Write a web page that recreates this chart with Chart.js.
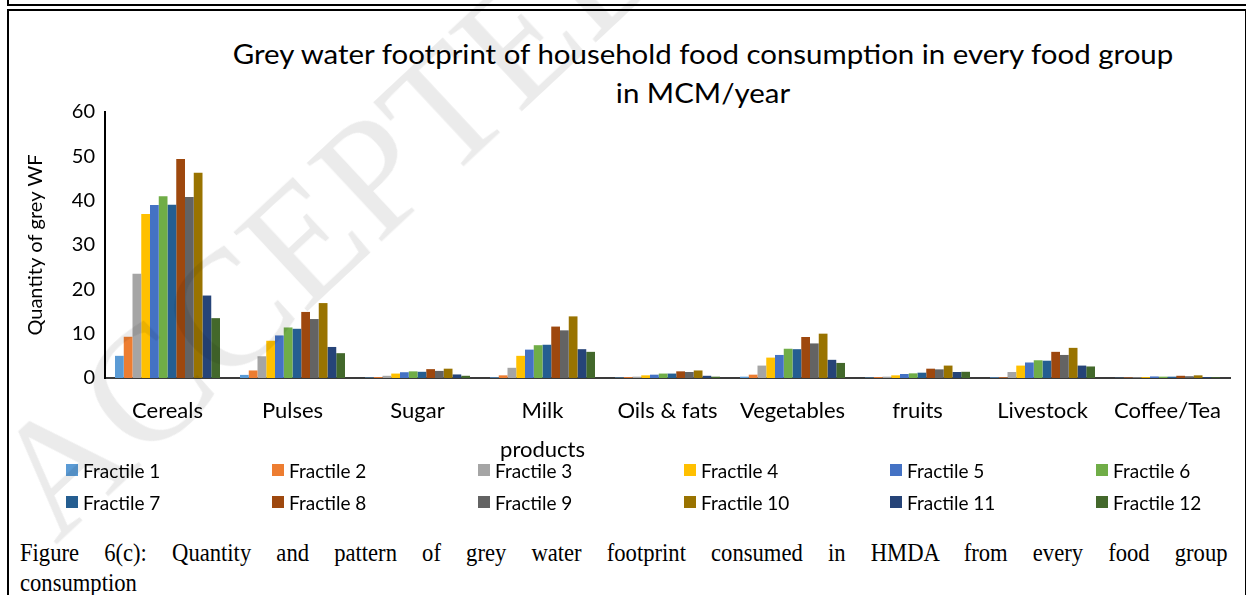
<!DOCTYPE html>
<html>
<head>
<meta charset="utf-8">
<script src="https://cdn.jsdelivr.net/npm/chart.js@4"></script>
<style>
  html, body { margin: 0; padding: 0; background: #fff; }
  body { width: 1246px; height: 595px; position: relative; overflow: hidden; font-family: Lato, sans-serif; color: #000; }
  #topBox { position: absolute; left: 7px; top: -4px; width: 1260px; height: 8px; border-left: 2px solid #000; border-bottom: 2px solid #000; }
  #frame { position: absolute; left: 7px; top: 9px; width: 1236px; height: 620px; border-left: 2px solid #000; border-top: 2px solid #000; border-right: 1px solid #000; }
  #title { position: absolute; left: 0; top: 34px; width: 1406px; text-align: center; font-size: 27px; line-height: 39px; transform: scaleX(1.09); transform-origin: 703px 0; }
  #chartBox { position: absolute; left: 10px; top: 12px; width: 1232px; height: 466px; }
  #legend { position: absolute; left: 66px; top: 454px; width: 1240px; display: flex; flex-wrap: wrap; }
  .item { width: 206px; height: 32px; display: flex; align-items: center; font-size: 19px; }
  .swatch { width: 12px; height: 12px; margin-right: 5px; }
  #caption { position: absolute; left: 20px; top: 538px; width: 1388px; transform: scaleX(0.87); transform-origin: 0 0; font-family: 'Liberation Serif', serif; font-size: 26px; line-height: 30px; }
  #caption .l1 { text-align: justify; text-align-last: justify; }
  #wm { position: absolute; left: 330px; top: 215px; transform: translate(-50%, -50%) rotate(-43deg); font-family: 'Liberation Serif', serif; font-size: 165px; color: rgba(0, 0, 0, 0.08); white-space: nowrap; pointer-events: none; }
</style>
</head>
<body>
<div id="topBox"></div>
<div id="frame"></div>
<div id="title">Grey water footprint of household food consumption in every food group<br>in MCM/year</div>
<div id="chartBox"><canvas id="chart" width="1232" height="466"></canvas></div>
<div id="legend"></div>
<div id="caption">
  <div class="l1">Figure 6(c): Quantity and pattern of grey water footprint consumed in HMDA from every food group</div>
  <div>consumption</div>
</div>
<div id="wm">ACCEPTED</div>
<script>
// Food groups on the x axis
const categories = ['Cereals', 'Pulses', 'Sugar', ['Milk', 'products'], 'Oils & fats', 'Vegetables', 'fruits', 'Livestock', 'Coffee/Tea']

// Grey WF per fractile, MCM/year
const fractile1 = [5.0, 0.7, 0.1, 0.15, 0.1, 0.3, 0.1, 0.15, 0.05]
const fractile2 = [9.3, 1.7, 0.2, 0.6, 0.2, 0.75, 0.2, 0.15, 0.1]
const fractile3 = [23.5, 4.9, 0.5, 2.3, 0.3, 2.8, 0.3, 1.35, 0.15]
const fractile4 = [37.0, 8.4, 1.0, 5.0, 0.6, 4.6, 0.6, 2.8, 0.2]
const fractile5 = [39.0, 9.6, 1.3, 6.4, 0.75, 5.2, 0.9, 3.5, 0.35]
const fractile6 = [41.0, 11.4, 1.5, 7.4, 1.0, 6.6, 1.05, 4.0, 0.3]
const fractile7 = [39.1, 11.1, 1.4, 7.5, 1.0, 6.5, 1.2, 3.9, 0.3]
const fractile8 = [49.4, 14.9, 2.0, 11.6, 1.5, 9.25, 2.1, 5.9, 0.5]
const fractile9 = [40.8, 13.3, 1.6, 10.75, 1.35, 7.8, 1.95, 5.2, 0.4]
const fractile10 = [46.3, 16.9, 2.1, 13.9, 1.7, 10.0, 2.8, 6.8, 0.6]
const fractile11 = [18.6, 7.0, 0.8, 6.5, 0.5, 4.1, 1.35, 2.8, 0.2]
const fractile12 = [13.5, 5.6, 0.5, 5.9, 0.3, 3.4, 1.4, 2.6, 0.15]

const seriesNames = ['Fractile 1', 'Fractile 2', 'Fractile 3', 'Fractile 4', 'Fractile 5', 'Fractile 6',
  'Fractile 7', 'Fractile 8', 'Fractile 9', 'Fractile 10', 'Fractile 11', 'Fractile 12']
const seriesValues = [fractile1, fractile2, fractile3, fractile4, fractile5, fractile6,
  fractile7, fractile8, fractile9, fractile10, fractile11, fractile12]
const seriesColors = ['#5B9BD5', '#ED7D31', '#A5A5A5', '#FFC000', '#4472C4', '#70AD47',
  '#255E91', '#9E480E', '#636363', '#997300', '#264478', '#43682B']

const yTicks = { min: 0, max: 60, step: 10 }

const datasets = seriesNames.map((name, i) => ({
  label: name,
  data: seriesValues[i],
  backgroundColor: seriesColors[i],
  borderWidth: 0,
  categoryPercentage: 0.84,
  barPercentage: 1.0
}))

const chart = new Chart(document.getElementById('chart').getContext('2d'), {
  type: 'bar',
  data: { labels: categories, datasets: datasets },
  options: {
    responsive: false,
    animation: false,
    layout: { padding: { left: 0, right: 12, top: 100, bottom: 0 } },
    plugins: {
      legend: { display: false },
      title: { display: false },
      tooltip: { enabled: false }
    },
    scales: {
      x: {
        grid: { display: false, drawTicks: false },
        border: { display: true, color: '#3a3a3a', width: 2 },
        ticks: {
          color: '#000',
          font: { family: 'Lato', size: 22, lineHeight: 1.77 },
          padding: 13,
          maxRotation: 0,
          autoSkip: false
        },
        afterFit: (scale) => { scale.height = 100 }
      },
      y: {
        min: yTicks.min,
        max: yTicks.max,
        ticks: { stepSize: yTicks.step, color: '#000', font: { family: 'Lato', size: 20 }, padding: 10 },
        grid: { display: false, drawTicks: false },
        border: { display: true, color: '#000', width: 2 },
        title: {
          display: true,
          text: 'Quantity of grey WF',
          color: '#000',
          font: { family: 'Lato', size: 20 },
          padding: { top: 14, bottom: 0 }
        },
        afterFit: (scale) => { scale.width = 95 }
      }
    }
  }
})

// Legend in a fixed 6-column grid, built from the chart's datasets
const legendEl = document.getElementById('legend')
chart.data.datasets.forEach((ds) => {
  const item = document.createElement('div')
  item.className = 'item'
  const sw = document.createElement('span')
  sw.className = 'swatch'
  sw.style.background = ds.backgroundColor
  item.appendChild(sw)
  item.appendChild(document.createTextNode(ds.label))
  legendEl.appendChild(item)
})
</script>
</body>
</html>
